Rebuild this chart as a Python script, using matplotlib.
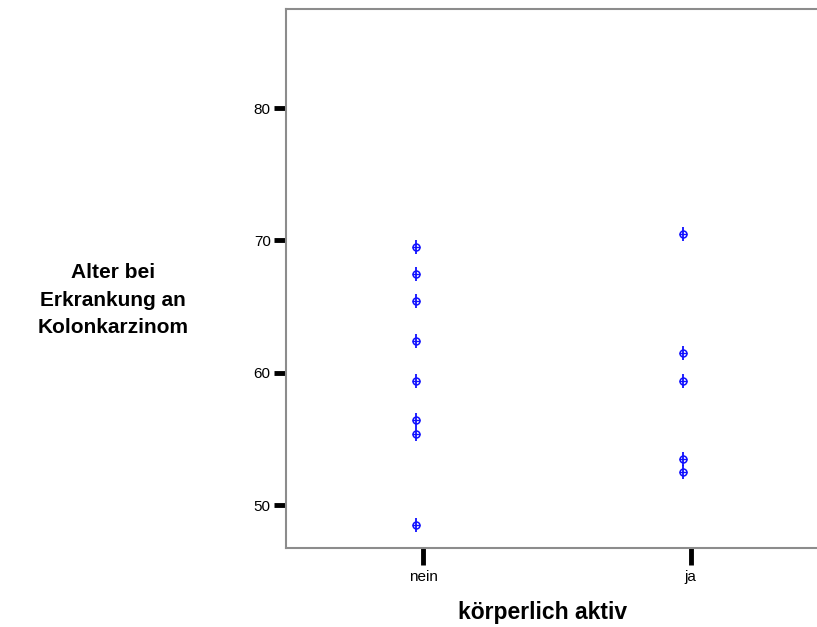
import matplotlib

matplotlib.use("Agg")
import matplotlib.pyplot as plt

plt.rcParams["font.family"] = ["Liberation Sans", "DejaVu Sans"]

categories = ["nein", "ja"]
alter_nein = [69.5, 67.5, 65.4, 62.4, 59.4, 56.4, 55.4, 48.5]
alter_ja = [70.5, 61.5, 59.4, 53.5, 52.5]
y_ticks = [50, 60, 70, 80]

W, H = 817, 627
fig = plt.figure(figsize=(W / 100, H / 100), dpi=100, facecolor="white")
# axes box in pixel coords: left 286, top 9, bottom 548, right beyond figure
ax = fig.add_axes([286 / W, (H - 548) / H, 1.0 - 286 / W + 0.002, (548 - 9) / H])

blue = "#1010ff"
for i, vals in enumerate([alter_nein, alter_ja]):
    xs = [i + 1 - 0.027] * len(vals)
    ax.plot(xs, vals, linestyle="none", marker="o", markersize=5,
            markerfacecolor="none", markeredgecolor=blue, markeredgewidth=1.1)
    ax.plot(xs, vals, linestyle="none", marker="|", markersize=10,
            markeredgecolor=blue, markeredgewidth=1.3)
    ax.plot(xs, vals, linestyle="none", marker="_", markersize=6,
            markeredgecolor=blue, markeredgewidth=1.0)

ax.set_xlim(0.487, 2.479)
ax.set_ylim(46.75, 87.5)
ax.set_xticks([1, 2])
ax.set_xticklabels(categories)
ax.set_yticks(y_ticks)

for side in ["left", "top", "bottom"]:
    ax.spines[side].set_color("#8c8c8c")
    ax.spines[side].set_linewidth(1.5)
ax.spines["right"].set_visible(False)

ax.tick_params(axis="y", direction="out", length=9, width=3.5, color="black",
               labelsize=11, pad=2)
ax.tick_params(axis="x", direction="out", length=12, width=3.5, color="black",
               labelsize=11, pad=4)

ax.set_xlabel("körperlich aktiv", fontsize=16.5, fontweight="bold", labelpad=12)
ax.xaxis.label.set_x(0.4825)
fig.text(113 / W, 1 - 300 / H, "Alter bei\nErkrankung an\nKolonkarzinom",
         ha="center", va="center", fontsize=15, fontweight="bold", linespacing=1.55)

fig.savefig("out.png", dpi=100, facecolor="white")
